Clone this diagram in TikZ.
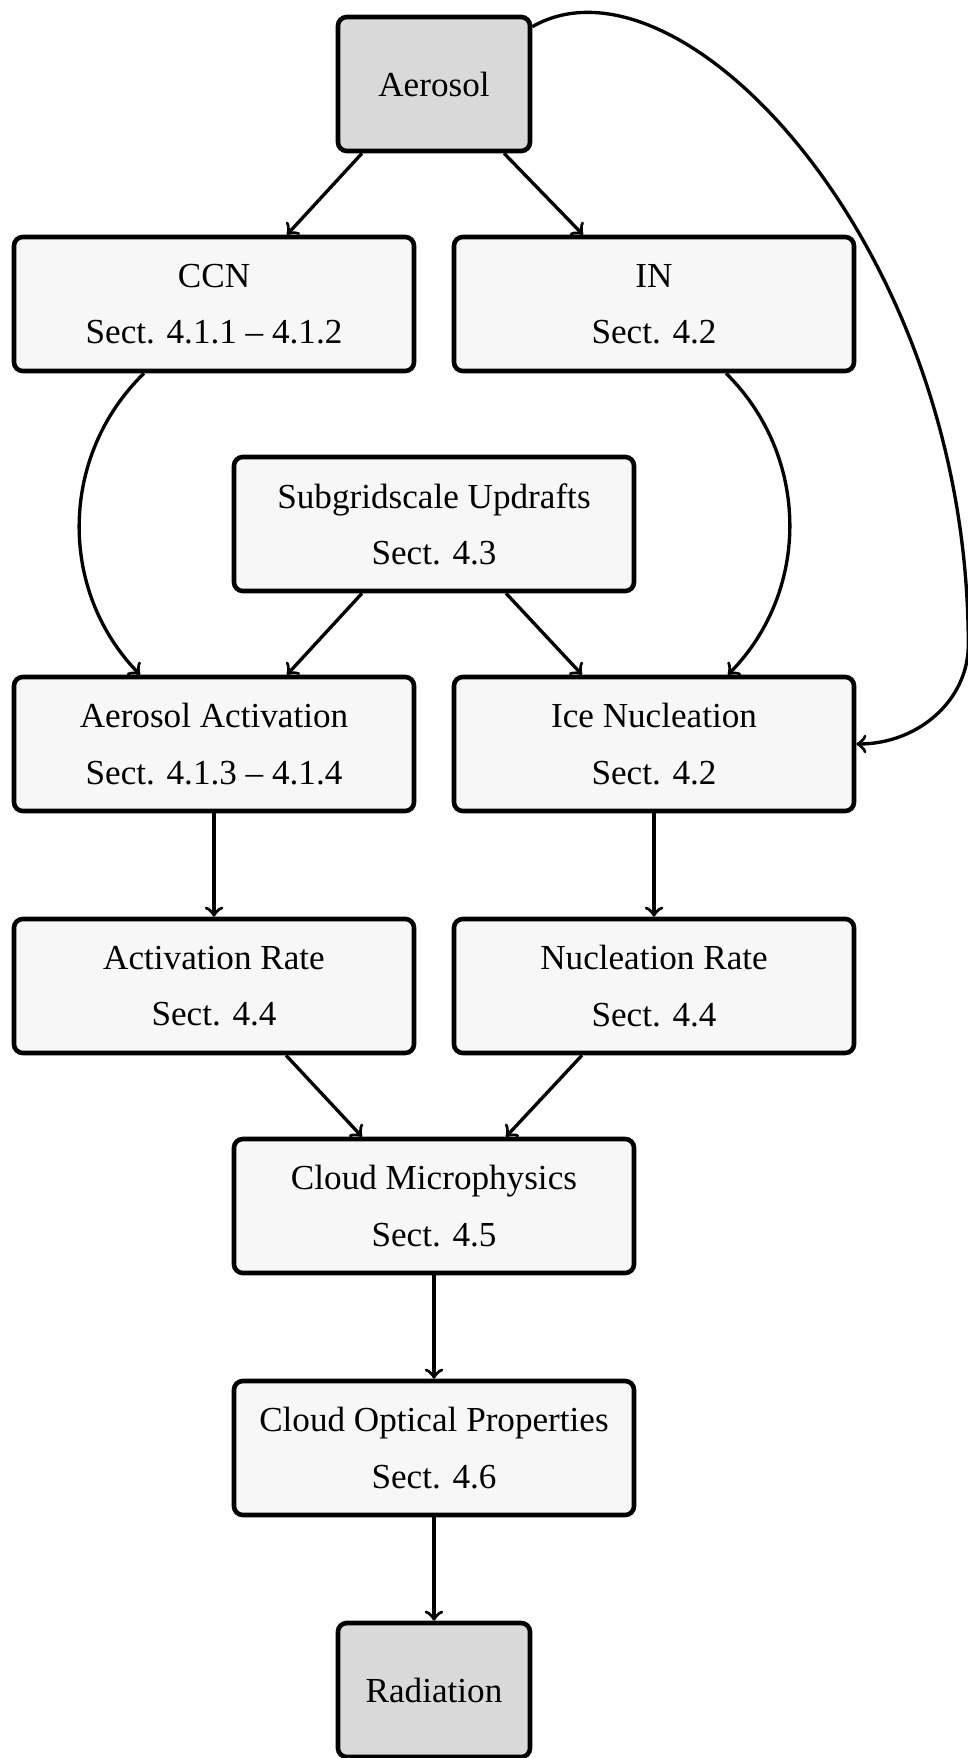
\documentclass[tikz,border=0pt]{standalone}
\usepackage{fontspec}
\setmainfont{Liberation Serif}
\usepackage{tikz}
\usetikzlibrary{arrows}
\usetikzlibrary{positioning}
\usetikzlibrary{calc}
\tikzset{
  >=to,
  line/.style={draw, ->}
}

\begin{document}
\begin{tikzpicture}[node distance=2.2cm, auto]
    % Define styles
    \tikzstyle{block} = [rectangle, draw, line width=1.3pt, fill=black!3, align=center, rounded corners=2.5pt, minimum width=4cm, minimum height=1.34cm, font=\fontsize{10}{16}\selectfont]
    \tikzstyle{startstop} = [block, fill=black!15, minimum width=1.92cm]
    \tikzstyle{line} = [draw, line width=0.95pt, ->]

    \useasboundingbox (0,0) rectangle (9.68,-17.58);

    % Place nodes
    \node [startstop] (aerosol) at (4.34,-0.84) {Aerosol};
    \node [block, below of=aerosol, xshift=-2.2cm] (ccn) {CCN\\Sect. 4.1.1 -- 4.1.2};
    \node [block, right of=ccn, node distance=4.4cm] (inp) {IN\\Sect. 4.2};
    \node [block, below of=aerosol, node distance=4.4cm] (updraft) {Subgridscale Updrafts\\Sect. 4.3};
    \node [block, below of=ccn, node distance=4.4cm] (activation) {Aerosol Activation\\Sect. 4.1.3 -- 4.1.4};
    \node [block, right of=activation, node distance=4.4cm] (nucleation) {Ice Nucleation\\Sect. 4.2};
    \node [block, below of=activation, node distance=2.42cm] (actrate) {Activation Rate\\Sect. 4.4};
    \node [block, right of=actrate, node distance=4.4cm] (nucrate) {Nucleation Rate\\Sect. 4.4};
    \node [block, below of=updraft, node distance=6.82cm] (micro) {Cloud Microphysics\\Sect. 4.5};
    \node [block, below of=micro, node distance=2.42cm] (optics) {Cloud Optical Properties\\Sect. 4.6};
    \node [startstop, below of=optics, node distance=2.42cm] (radiation) {Radiation};

    % turning point of the long aerosol -> ice nucleation arc
    \coordinate (turn) at ($(nucleation.east)+(1.12,0.99)$);

    % Draw edges
    \path [line] ([xshift=-0.72cm]aerosol.south) -- ([xshift=0.73cm]ccn.north);
    \path [line] ([xshift=0.70cm]aerosol.south) -- ([xshift=-0.71cm]inp.north);
    \path [line] ([xshift=-0.70cm]ccn.south) to [bend right=45] ([xshift=-0.74cm]activation.north);
    \path [line] ([xshift=0.72cm]inp.south) to [bend left=45] ([xshift=0.74cm]nucleation.north);
    \path [line] ([xshift=-0.72cm]updraft.south) -- ([xshift=0.73cm]activation.north);
    \path [line] ([xshift=0.72cm]updraft.south) -- ([xshift=-0.72cm]nucleation.north);
    \path [line] (activation) -- (actrate);
    \path [line] (nucleation) -- (nucrate);
    \path [line] ([xshift=0.72cm]actrate.south) -- ([xshift=-0.72cm]micro.north);
    \path [line] ([xshift=-0.72cm]nucrate.south) -- ([xshift=0.72cm]micro.north);
    \path [line] (micro) -- (optics);
    \path [line] (optics) -- (radiation);
    \path [line] ([yshift=-0.12cm]aerosol.north east) .. controls +(30:1.7) and +(90:4.0) .. (turn)
        .. controls +(270:0.55) and +(0:0.62) .. (nucleation.east);

\end{tikzpicture}
\end{document}
